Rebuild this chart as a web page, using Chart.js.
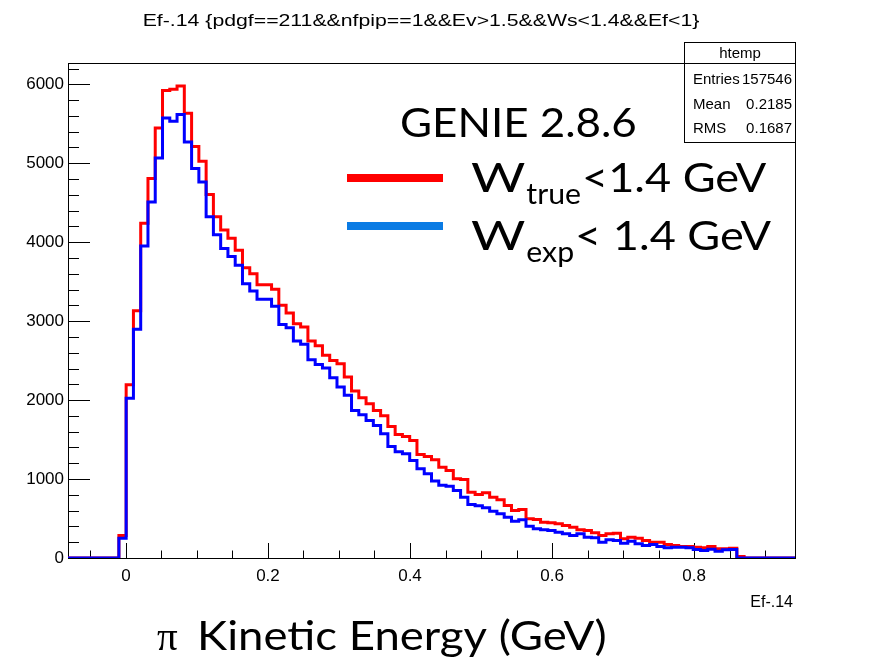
<!DOCTYPE html>
<html>
<head>
<meta charset="utf-8">
<title>Pion kinetic energy</title>
<script src="https://cdn.jsdelivr.net/npm/chart.js@4.4.1/dist/chart.umd.min.js"></script>
<style>
  html, body { margin: 0; padding: 0; background: #fff; }
  #c { display: block; }
</style>
</head>
<body>
<canvas id="c" width="871" height="661"></canvas>
<script>
// htemp binning: 100 bins of Ef-.14
const xLow = -0.0815;
const xHigh = 0.942;
const nBins = 100;
const yMax = 6270;

const xTicks = [0, 0.2, 0.4, 0.6, 0.8];
const yTicks = [0, 1000, 2000, 3000, 4000, 5000, 6000];

// bin contents, W_true < 1.4 GeV
const wTrue = [
  0, 0, 0, 0, 0, 0, 0, 285, 2195, 3133,
  4240, 4806, 5448, 5921, 5938, 5980, 5634, 5211, 5025, 4603,
  4324, 4155, 4050, 3897, 3678, 3602, 3462, 3462, 3403, 3200,
  3103, 2968, 2926, 2748, 2689, 2567, 2503, 2461, 2292, 2114,
  2030, 1954, 1869, 1802, 1667, 1563, 1540, 1489, 1312, 1286,
  1245, 1151, 1109, 1004, 995, 834, 805, 826, 771, 737,
  665, 602, 615, 497, 488, 454, 446, 433, 412, 390,
  357, 349, 320, 285, 307, 315, 243, 264, 251, 222,
  200, 200, 171, 158, 146, 146, 137, 129, 146, 117,
  117, 124, 19, 0, 0, 0, 0, 0, 0, 0
];

// bin contents, W_exp < 1.4 GeV
const wExp = [
  0, 0, 0, 0, 0, 0, 0, 251, 2025, 2896,
  3952, 4510, 5067, 5574, 5532, 5617, 5270, 4933, 4763, 4324,
  4096, 3919, 3820, 3707, 3475, 3382, 3276, 3276, 3188, 2959,
  2918, 2748, 2706, 2512, 2452, 2406, 2284, 2165, 2060, 1869,
  1815, 1743, 1679, 1574, 1413, 1345, 1321, 1236, 1131, 1067,
  974, 923, 910, 856, 771, 678, 662, 636, 593, 560,
  517, 466, 484, 403, 370, 357, 349, 327, 307, 285,
  307, 264, 255, 200, 231, 222, 188, 213, 180, 158,
  171, 146, 129, 137, 137, 129, 108, 95, 112, 86,
  103, 108, 0, 0, 0, 0, 0, 0, 0, 0
];

const statsRows = [
  ['Entries', '157546'],
  ['Mean', '0.2185'],
  ['RMS', '0.1687']
];

const ROOT_FONT = '"Liberation Sans", Arial, sans-serif';
const SLIDE_FONT = 'Lato, "Open Sans", sans-serif';

// one point per lower bin edge plus the upper edge of the last bin
function toSteps(vals) {
  const w = (xHigh - xLow) / nBins;
  const pts = vals.map((v, i) => ({ x: xLow + i * w, y: v }));
  pts.push({ x: xHigh, y: vals[vals.length - 1] });
  return pts;
}

// returns the x where the drawn text ends
function drawText(ctx, str, x, y, font, align, sx) {
  sx = sx || 1;
  ctx.save();
  ctx.font = font;
  ctx.textAlign = align || 'left';
  ctx.textBaseline = 'alphabetic';
  ctx.fillStyle = '#000';
  ctx.translate(x, y);
  ctx.scale(sx, 1);
  ctx.fillText(str, 0, 0);
  const w = ctx.measureText(str).width * sx;
  ctx.restore();
  return x + w;
}

// W with a subscript, then the rest of the label
function drawW(ctx, sub, rest, x, y) {
  let e = drawText(ctx, 'W', x, y, '41px ' + SLIDE_FONT, 'left', 1.28);
  e = drawText(ctx, sub, e + 1, y + 12, '28px ' + SLIDE_FONT, 'left', 1.08);
  drawText(ctx, rest, e + 1, y, '41px ' + SLIDE_FONT, 'left', 1.1);
}

// ROOT style frame with ticks drawn inside
const rootFrame = {
  id: 'rootFrame',
  beforeDatasetsDraw(chart) {
    const { ctx, chartArea: a, scales: { x, y } } = chart;
    ctx.save();
    ctx.strokeStyle = '#000';
    ctx.lineWidth = 1;
    ctx.strokeRect(Math.round(a.left) + 0.5, Math.round(a.top) + 0.5,
      Math.round(a.right - a.left), Math.round(a.bottom - a.top));
    ctx.beginPath();
    for (let v = 0; v <= y.max; v += 200) {
      const py = Math.round(y.getPixelForValue(v)) + 0.5;
      const len = v % 1000 === 0 ? 22 : 11;
      ctx.moveTo(a.left, py);
      ctx.lineTo(a.left + len, py);
    }
    for (let i = Math.ceil(xLow / 0.05); i * 0.05 <= xHigh; i++) {
      const px = Math.round(x.getPixelForValue(i * 0.05)) + 0.5;
      const len = i % 4 === 0 ? 15 : 7.5;
      ctx.moveTo(px, a.bottom);
      ctx.lineTo(px, a.bottom - len);
    }
    ctx.stroke();
    ctx.restore();
  }
};

// title, stats box, legend and axis captions
const overlay = {
  id: 'overlay',
  afterDraw(chart) {
    const ctx = chart.ctx;
    const a = chart.chartArea;

    drawText(ctx, 'Ef-.14 {pdgf==211&&nfpip==1&&Ev>1.5&&Ws<1.4&&Ef<1}',
      421, 26, '17px ' + ROOT_FONT, 'center', 1.25);

    // stats box
    ctx.save();
    ctx.fillStyle = '#fff';
    ctx.fillRect(684, 42, 112, 100);
    ctx.strokeStyle = '#000';
    ctx.lineWidth = 1;
    ctx.strokeRect(684.5, 42.5, 111, 100);
    ctx.beginPath();
    ctx.moveTo(684, 63.5);
    ctx.lineTo(796, 63.5);
    ctx.stroke();
    ctx.restore();
    drawText(ctx, 'htemp', 740, 58, '15px ' + ROOT_FONT, 'center');
    statsRows.forEach((r, i) => {
      drawText(ctx, r[0], 693, 84 + i * 24.5, '15px ' + ROOT_FONT, 'left');
      drawText(ctx, r[1], 792, 84 + i * 24.5, '15px ' + ROOT_FONT, 'right');
    });

    drawText(ctx, 'Ef-.14', a.right - 2, 607, '16px ' + ROOT_FONT, 'right');

    // legend
    drawText(ctx, 'GENIE 2.8.6', 400, 137, '41px ' + SLIDE_FONT, 'left', 1.07);
    ctx.save();
    ctx.fillStyle = '#ff0000';
    ctx.fillRect(347, 174, 96, 8);
    ctx.fillStyle = '#0a7be4';
    ctx.fillRect(347, 222, 96, 8);
    ctx.restore();
    drawW(ctx, 'true', '<1.4 GeV', 471, 192);
    drawW(ctx, 'exp', '< 1.4 GeV', 471, 250);

    // x axis caption
    drawText(ctx, '\u03c0', 157, 650, '41px "Liberation Serif", serif', 'left');
    drawText(ctx, 'Kinetic Energy (GeV)', 197, 650, '41px ' + SLIDE_FONT, 'left', 1.11);
  }
};

new Chart(document.getElementById('c'), {
  type: 'line',
  data: {
    datasets: [
      {
        label: 'W_exp < 1.4 GeV',
        data: toSteps(wExp),
        borderColor: '#0000ff',
        borderWidth: 3,
        stepped: true,
        pointRadius: 0,
        fill: false,
        order: 0
      },
      {
        label: 'W_true < 1.4 GeV',
        data: toSteps(wTrue),
        borderColor: '#ff0000',
        borderWidth: 3,
        stepped: true,
        pointRadius: 0,
        fill: false,
        order: 1
      }
    ]
  },
  options: {
    responsive: false,
    animation: false,
    layout: { padding: { left: 0, top: 63, right: 76, bottom: 73 } },
    plugins: {
      legend: { display: false },
      tooltip: { enabled: false },
      title: { display: false }
    },
    scales: {
      x: {
        type: 'linear',
        min: xLow,
        max: xHigh,
        grid: { display: false, drawTicks: false },
        border: { display: false },
        afterBuildTicks: s => { s.ticks = xTicks.map(v => ({ value: v })); },
        ticks: {
          maxRotation: 0,
          autoSkip: false,
          padding: 8,
          color: '#000',
          font: { family: ROOT_FONT, size: 17 },
          callback: v => String(v)
        },
        afterFit: s => { s.height = 30; }
      },
      y: {
        type: 'linear',
        min: 0,
        max: yMax,
        grid: { display: false, drawTicks: false },
        border: { display: false },
        afterBuildTicks: s => { s.ticks = yTicks.map(v => ({ value: v })); },
        ticks: {
          autoSkip: false,
          padding: 4,
          color: '#000',
          font: { family: ROOT_FONT, size: 17 },
          callback: v => String(v)
        },
        afterFit: s => { s.width = 68; }
      }
    }
  },
  plugins: [rootFrame, overlay]
});
</script>
</body>
</html>
